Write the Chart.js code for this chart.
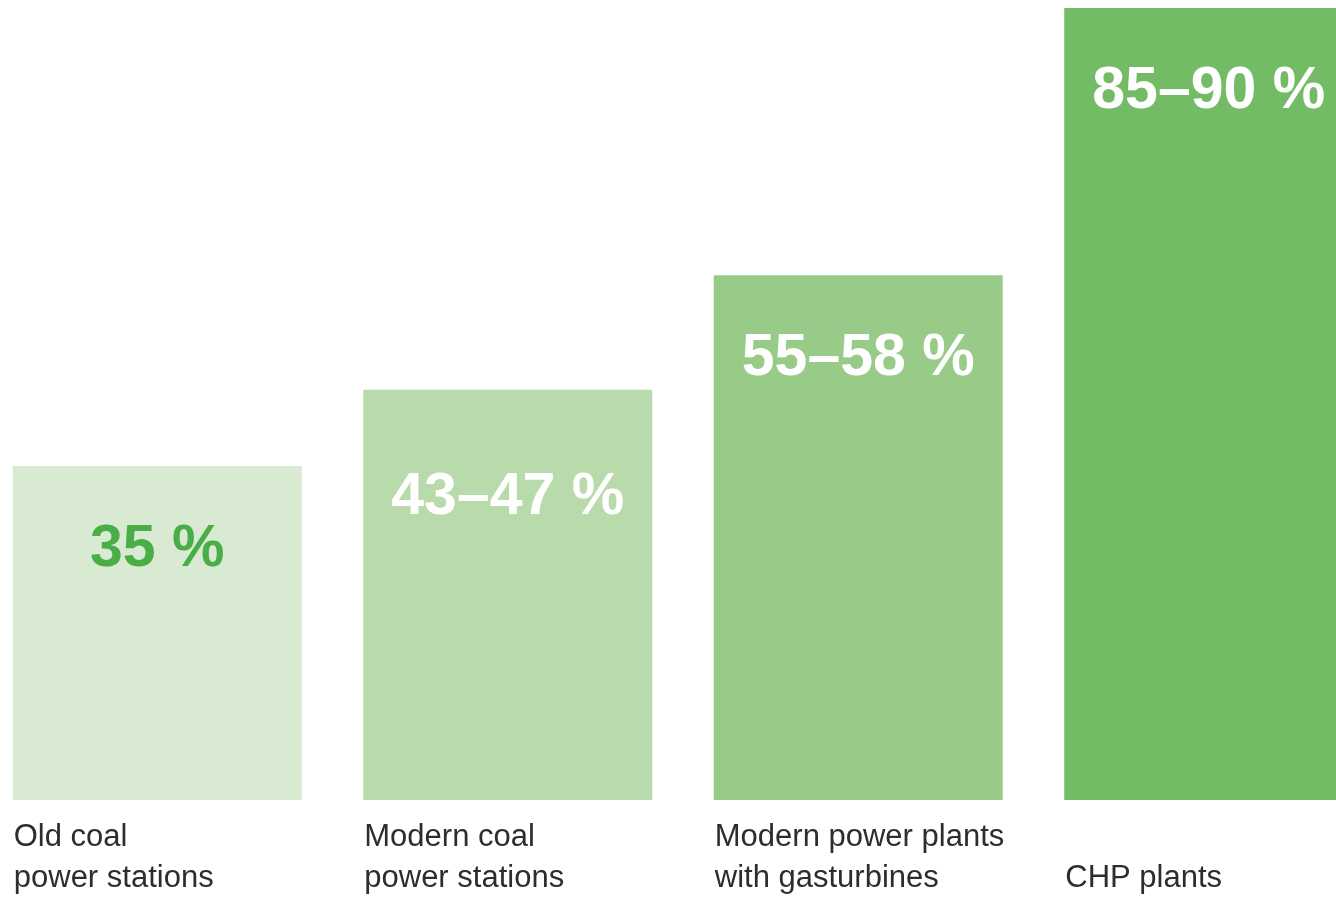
<html>

<head>
  <script src="https://cdn.jsdelivr.net/npm/chart.js"></script>
  <title>Power plant efficiency</title>
  <style>
    html, body {
      margin: 0;
      padding: 0;
      background: #ffffff;
      overflow: hidden;
    }

    .chart-wrapper {
      position: absolute;
      left: -18px;
      top: 0;
      width: 1402px;
      height: 897px;
    }
  </style>
</head>

<body>
<div class="chart-wrapper">
  <canvas id="chart-1"></canvas>
</div>

<script>
  // efficiency per plant type (lower bound of the stated range, in %)
  const categories = [
    ['Old coal', 'power stations'],
    ['Modern coal', 'power stations'],
    ['Modern power plants', 'with gasturbines'],
    ['CHP plants']
  ];
  const efficiency = [35, 43, 55, 85];
  const valueLabels = ['35 %', '43–47 %', '55–58 %', '85–90 %'];
  const barColors = ['#d9ead3', '#b9dbab', '#98cb88', '#74bb66'];
  const valueColors = ['#4aae47', '#ffffff', '#ffffff', '#ffffff'];

  // values inside the bars, drawn just below each bar's (visible) top
  const valueLabelPlugin = {
    id: 'valueLabels',
    afterDatasetsDraw(chart) {
      const ctx = chart.ctx;
      const area = chart.chartArea;
      const bars = chart.getDatasetMeta(0).data;
      // the second label sits a little deeper in its bar
      const extraDrop = [0, 24, 0, 0];
      ctx.save();
      ctx.font = 'bold 59px "Liberation Sans", Arial, sans-serif';
      ctx.textAlign = 'center';
      ctx.textBaseline = 'alphabetic';
      bars.forEach((bar, i) => {
        const top = Math.max(bar.y, area.top);
        ctx.fillStyle = valueColors[i];
        ctx.fillText(valueLabels[i], bar.x, top + 100 + extraDrop[i]);
      });
      ctx.restore();
    }
  };

  // category names under the bars, left aligned with the bar, bottom lines level
  const categoryLabelPlugin = {
    id: 'categoryLabels',
    afterDraw(chart) {
      const ctx = chart.ctx;
      const bars = chart.getDatasetMeta(0).data;
      const lastBaseline = 887;
      const lineHeight = 41;
      ctx.save();
      ctx.font = '31px "Liberation Sans", Arial, sans-serif';
      ctx.fillStyle = '#2d2d2d';
      ctx.textAlign = 'left';
      ctx.textBaseline = 'alphabetic';
      bars.forEach((bar, i) => {
        const left = bar.x - bar.width / 2;
        const lines = categories[i];
        lines.forEach((line, j) => {
          const y = lastBaseline - (lines.length - 1 - j) * lineHeight;
          ctx.fillText(line, left + 1, y);
        });
      });
      ctx.restore();
    }
  };

  const config = {
    type: 'bar',
    data: {
      labels: categories.map(c => c.join(' ')),
      datasets: [{
        data: efficiency,
        backgroundColor: barColors,
        borderWidth: 0,
        barPercentage: 1,
        categoryPercentage: 0.8245
      }]
    },
    options: {
      responsive: true,
      maintainAspectRatio: false,
      devicePixelRatio: 1,
      animation: false,
      layout: {
        padding: { top: 8, bottom: 97, left: 0, right: 0 }
      },
      scales: {
        x: {
          display: false
        },
        y: {
          display: false,
          min: 0,
          max: 83
        }
      },
      plugins: {
        legend: { display: false },
        tooltip: { enabled: false }
      }
    },
    plugins: [valueLabelPlugin, categoryLabelPlugin]
  };

  const chart = new Chart(
    document.getElementById('chart-1'),
    config
  );
</script>
</body>

</html>
